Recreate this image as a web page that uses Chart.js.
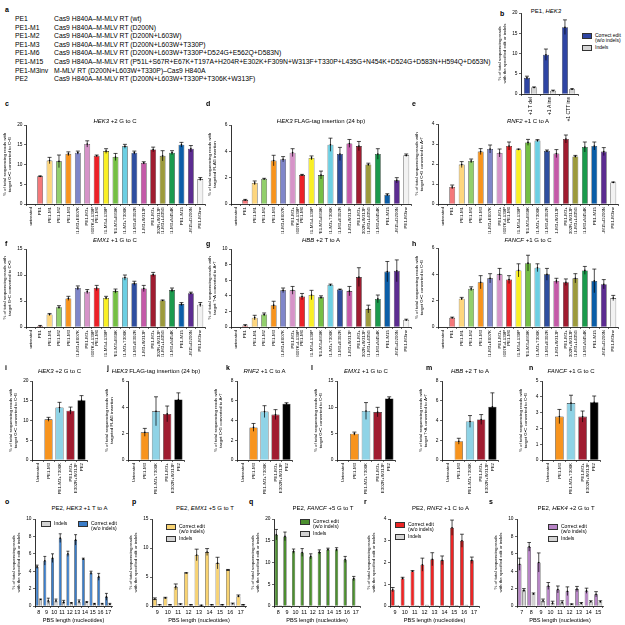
<!DOCTYPE html>
<html>
<head>
<meta charset="utf-8">
<script src="https://cdn.jsdelivr.net/npm/chart.js@4.4.1/dist/chart.umd.min.js"></script>
<style>
  body { margin: 0; width: 625px; height: 625px; background: #fff; position: relative; overflow: hidden;
         font-family: "Liberation Sans", Arial, sans-serif; color: #000; }
  .panel { position: absolute; }
  .txt { position: absolute; white-space: nowrap; line-height: 1; font-size: 6px; }
  .sw { display: inline-block; width: 8px; height: 4px; border: 0.6px solid #333; vertical-align: top; margin-right: 3px; }
</style>
</head>
<body>
<script>
// ---- data ----
const variants = ["untreated", "PE1", "PE1-M1", "PE1-M2", "PE1-M3", "PE1-M3+E607K", ["PE1-M3+", "E607K+L139P"],
  "PE1-M6", "PE1-M3+L139P", "PE1-M3+E69K", "PE1-M3+T306K", "PE1-M3+E302R", "PE1-M3+W313F",
  ["PE1-M3+", "E302R+W313F"], "PE1-M3+L435G", "PE1-M3+N454K", "PE1-M15", "PE1-M15+D200N", "PE1-M3inv"];
const variantColors = ["#ffffff", "#f4787a", "#fdd67e", "#92cf6c", "#f7941e", "#7f86c9", "#d693c8",
  "#ec2127", "#f9ef25", "#74bf44", "#6ccfe3", "#2f4e9f", "#c45aa8", "#a01c30", "#9c9a3c",
  "#1b9a4d", "#0b5ea8", "#5c2c91", "#f2f2f2"];

const hek3G2C = [0, 7.0, 11.0, 10.8, 12.7, 13.0, 15.2, 12.2, 13.4, 11.9, 14.6, 13.0, 10.4, 13.8, 12.2, 13.0, 15.0, 14.0, 6.3];
const hek3G2CErr = [0, 0.1, 0.8, 1.6, 0.5, 0.4, 0.8, 0.2, 0.6, 0.9, 0.5, 0.4, 0.3, 0.6, 1.3, 0.5, 0.6, 0.8, 0.4];
const hek3Flag = [0, 0.3, 1.6, 1.9, 3.3, 3.4, 3.9, 2.2, 3.5, 2.2, 4.5, 3.8, 4.6, 4.4, 3.0, 3.8, 0.7, 1.8, 3.7];
const hek3FlagErr = [0, 0.05, 0.15, 0.05, 0.4, 0.2, 0.3, 0.05, 0.15, 0.3, 0.5, 0.5, 0.3, 0.35, 0.1, 0.4, 0.08, 0.2, 0.1];
const rnf2C2A = [0, 0.85, 1.97, 2.15, 2.62, 2.75, 2.55, 2.9, 2.73, 3.08, 3.17, 2.65, 2.52, 3.25, 2.38, 2.85, 2.9, 2.62, 1.08];
const rnf2C2AErr = [0, 0.1, 0.15, 0.1, 0.15, 0.2, 0.2, 0.2, 0.02, 0.15, 0.05, 0.05, 0.2, 0.2, 0.05, 0.25, 0.2, 0.2, 0.02];
const emx1G2C = [0, 0.2, 2.4, 3.8, 5.5, 7.5, 6.8, 7.5, 5.6, 6.9, 9.5, 8.4, 7.4, 10.1, 5.1, 7.1, 4.4, 6.5, 4.3];
const emx1G2CErr = [0, 0.1, 0.2, 0.3, 0.4, 0.4, 0.4, 0.5, 0.3, 0.4, 0.5, 0.4, 0.6, 0.4, 0.1, 0.4, 0.3, 0.2, 0.4];
const hbbT2A = [0, 0.2, 1.2, 1.6, 2.8, 4.7, 4.7, 3.9, 4.1, 3.8, 5.4, 4.8, 4.6, 6.4, 2.3, 3.6, 7.1, 7.2, 0.9];
const hbbT2AErr = [0, 0.1, 0.3, 0.2, 0.5, 0.3, 0.5, 0.4, 0.6, 0.2, 0.1, 0.05, 0.6, 1.2, 0.5, 0.5, 1.3, 1.4, 0.1];
const fancfG2C = [0, 0.7, 2.15, 2.9, 3.4, 3.7, 4.0, 3.6, 4.3, 4.85, 4.5, 4.0, 3.5, 3.4, 3.7, 4.3, 3.5, 3.25, 2.2];
const fancfG2CErr = [0, 0.05, 0.1, 0.15, 0.5, 0.35, 0.45, 0.3, 0.5, 0.6, 0.3, 0.45, 0.2, 0.25, 0.35, 0.3, 0.9, 0.35, 0.2];

const editors = ["Untreated", "PE1-M3", "PE1-M3+T306K", ["PE1-M3+", "E302R+W313F"], "PE2"];
const editorColors = ["#ffffff", "#f7941e", "#8fd3e6", "#a01c30", "#000000"];
const iHek3 = [0, 10.3, 13.3, 12.5, 15.1];
const iHek3Err = [0, 0.5, 1.3, 0.9, 1.2];
const jFlag = [0, 2.1, 3.7, 3.5, 4.6];
const jFlagErr = [0, 0.3, 1.1, 0.6, 0.5];
const kRnf2 = [0, 3.3, 4.9, 4.6, 5.7];
const kRnf2Err = [0, 0.4, 0.6, 0.5, 0.1];
const lEmx1 = [0, 5.0, 9.3, 9.1, 11.7];
const lEmx1Err = [0, 0.3, 1.6, 0.9, 0.3];
const mHbb = [0, 1.9, 3.9, 4.1, 5.4];
const mHbbErr = [0, 0.3, 0.6, 0.5, 1.4];
const nFancf = [0, 2.75, 3.6, 2.75, 3.65];
const nFancfErr = [0, 0.45, 0.5, 0.35, 0.4];

const bSites = ["+1 T del", "+1 A ins", "+1 CTT ins"];
const bCorrect = [4.0, 9.7, 16.5];
const bCorrectErr = [0.4, 1.4, 1.8];
const bIndels = [1.6, 0.8, 1.2];
const bIndelsErr = [0.15, 0.15, 0.1];

const oPbs = ["8", "9", "10", "11", "12", "13", "14", "15", "16", "17"];
const oCorrect = [4.5, 5.2, 5.5, 7.8, 6.0, 7.6, 5.4, 3.8, 3.35, 1.05];
const oCorrectErr = [0.2, 0.5, 0.5, 0.5, 0.3, 0.6, 0.1, 0.2, 0.4, 0.4];
const oIndels = [0.75, 0.6, 0.6, 0.45, 0.35, 0.5, 0.45, 0.25, 0.25, 0.2];
const oIndelsErr = [0.05, 0.3, 0.2, 0.2, 0.05, 0.2, 0.05, 0.05, 0.05, 0.1];

const pPbs = ["9", "10", "11", "12", "13", "14", "15", "16", "17"];
const pCorrect = [1.2, 1.4, 3.3, 5.7, 8.8, 9.3, 7.4, 6.2, 1.7];
const pCorrectErr = [0.2, 0.1, 0.5, 0.05, 1.0, 0.6, 1.0, 0.1, 0.2];
const pIndels = [0.2, 0.2, 0.3, 0.2, 0.1, 0.2, 0.2, 0.4, 0.2];
const pIndelsErr = [0.05, 0.05, 0.1, 0.05, 0.05, 0.05, 0.05, 0.1, 0.05];

const qPbs = ["8", "9", "10", "11", "12", "13", "14", "15", "16", "17"];
const qCorrect = [16.4, 16.0, 12.6, 12.3, 11.4, 12.4, 13.0, 13.0, 10.7, 6.3];
const qCorrectErr = [1.2, 1.0, 0.5, 0.9, 0.6, 0.5, 0.3, 0.4, 0.7, 0.5];
const qIndels = [0.2, 0.2, 0.1, 0.1, 0.1, 0.1, 0.1, 0.1, 0.1, 0.1];

const rPbs = ["9", "10", "11", "12", "13", "14", "15", "16", "17"];
const rCorrect = [0.75, 1.27, 1.6, 1.9, 2.15, 2.1, 3.6, 3.0, 2.1];
const rCorrectErr = [0.1, 0.05, 0.03, 0.3, 0.3, 0.2, 0.35, 0.3, 0.15];
const rIndels = [0.05, 0.04, 0.03, 0.06, 0.04, 0.03, 0.05, 0.06, 0.02];

const sPbs = ["7", "8", "9", "10", "11", "12", "13", "14", "15"];
const sCorrect = [4.8, 6.8, 5.0, 2.3, 1.9, 1.7, 1.95, 1.75, 1.35];
const sCorrectErr = [0.7, 0.5, 1.1, 0.4, 0.4, 0.5, 0.3, 0.3, 0.3];
const sIndels = [1.8, 1.4, 0.6, 0.35, 0.4, 0.2, 0.3, 0.5, 0.5];
const sIndelsErr = [0.2, 0.1, 0.2, 0.2, 0.2, 0.05, 0.1, 0.1, 0.1];

// ---- helpers ----
const FONT = "Liberation Sans, Arial, sans-serif";
const GRAY = "#d4d4d4";

// error bars drawn from each dataset's "errors" array through the y scale
const errorBars = {
  id: "errorBars",
  afterDatasetsDraw(chart) {
    const ctx = chart.ctx;
    const y = chart.scales.y;
    chart.data.datasets.forEach((ds, i) => {
      if (!ds.errors) return;
      const meta = chart.getDatasetMeta(i);
      meta.data.forEach((bar, j) => {
        const v = ds.data[j], e = ds.errors[j];
        if (!e) return;
        const top = y.getPixelForValue(v + e);
        const bot = y.getPixelForValue(Math.max(0, v - e));
        const cap = Math.min(2, bar.width / 2);
        ctx.save();
        ctx.strokeStyle = "#000";
        ctx.lineWidth = 0.7;
        ctx.beginPath();
        ctx.moveTo(bar.x, bot); ctx.lineTo(bar.x, top);
        ctx.moveTo(bar.x - cap, top); ctx.lineTo(bar.x + cap, top);
        ctx.stroke();
        ctx.fillStyle = "#000";
        ctx.beginPath(); ctx.arc(bar.x, y.getPixelForValue(v), 0.8, 0, Math.PI * 2); ctx.fill();
        ctx.restore();
      });
    });
  }
};

function text(html, x, y, css) {
  const d = document.createElement("div");
  d.className = "txt";
  d.style.left = x + "px";
  d.style.top = y + "px";
  if (css) d.style.cssText += css;
  d.innerHTML = html;
  document.body.appendChild(d);
}
function title(html, cx, y) {
  text(html, cx - 90, y, "width:180px;text-align:center;");
}
function letter(l, x, y) {
  text(l, x, y, "font-size:7px;font-weight:bold;");
}
function legend(items, x, y, gap) {
  items.forEach((it, k) => {
    text('<span class="sw" style="background:' + it[1] + '"></span><span style="display:inline-block;vertical-align:top">' + it[0] + "</span>",
      x, y + k * (gap || 11), "font-size:5px;line-height:1.05;");
  });
}

function barChart(box, cfg) {
  const yW = cfg.yW || 24, xH = cfg.xH || 30, padT = 6, padR = 3;
  const div = document.createElement("div");
  div.className = "panel";
  div.style.left = (box[0] - yW) + "px";
  div.style.top = (box[1] - padT) + "px";
  div.style.width = (box[2] - box[0] + yW + padR) + "px";
  div.style.height = (box[3] - box[1] + padT + xH) + "px";
  const cv = document.createElement("canvas");
  div.appendChild(cv);
  document.body.appendChild(div);

  const axisGrid = { drawOnChartArea: false, drawTicks: true, tickLength: 2, color: "#000", lineWidth: 0.6 };
  const rot = cfg.rot === undefined ? 90 : cfg.rot;
  new Chart(cv, {
    type: "bar",
    data: { labels: cfg.labels, datasets: cfg.datasets },
    options: {
      responsive: true,
      maintainAspectRatio: false,
      animation: false,
      layout: { autoPadding: false, padding: { top: padT, right: padR, left: 0, bottom: 0 } },
      plugins: { legend: { display: false }, title: { display: false }, tooltip: { enabled: false } },
      datasets: { bar: { categoryPercentage: cfg.cat || 1, barPercentage: cfg.bar || 0.62, borderWidth: 0.6, borderColor: "#222" } },
      scales: {
        x: {
          grid: axisGrid,
          border: { color: "#000", width: 0.8 },
          ticks: { font: { family: FONT, size: cfg.xSize || 4.4 }, color: "#000", autoSkip: false, minRotation: rot, maxRotation: rot, padding: 1 },
          title: cfg.xTitle ? { display: true, text: cfg.xTitle, font: { family: FONT, size: 5.6 }, color: "#000", padding: { top: 1, bottom: 0 } } : { display: false },
          afterFit: (s) => { s.height = xH; }
        },
        y: {
          min: 0,
          max: cfg.max,
          grid: axisGrid,
          border: { color: "#000", width: 0.8 },
          ticks: { stepSize: cfg.step, font: { family: FONT, size: 4.8 }, color: "#000", padding: 1.5 },
          title: { display: true, text: cfg.yTitle, font: { family: FONT, size: 4.4 }, color: "#000", padding: { top: 0, bottom: 2 } },
          afterFit: (s) => { s.width = yW; }
        }
      }
    },
    plugins: [errorBars]
  });
}

function variantDs(values, errs) {
  return [{ data: values, errors: errs, backgroundColor: variantColors }];
}
function editorDs(values, errs) {
  return [{ data: values, errors: errs, backgroundColor: editorColors }];
}
function pbsDs(correct, correctErr, color, indels, indelsErr) {
  return [
    { data: correct, errors: correctErr, backgroundColor: color },
    { data: indels, errors: indelsErr, backgroundColor: GRAY }
  ];
}

const yGC = ["% of total sequencing reads with", "target G\u2022C converted to C\u2022G"];
const yCG = ["% of total sequencing reads with", "target C\u2022G converted to A\u2022T"];
const yTA = ["% of total sequencing reads with", "target T\u2022A converted to A\u2022T"];
const yFLAG = ["% of total sequencing reads with", "targeted FLAG insertion"];
const yEdit = ["% of total sequencing reads", "with the specified edit or indels"];

// ---- panel a ----
letter("a", 5, 6);
const aNames = ["PE1", "PE1-M1", "PE1-M2", "PE1-M3", "PE1-M6", "PE1-M15", "PE1-M3inv", "PE2"];
const aDesc = [
  "Cas9 H840A\u2013M-MLV RT (wt)",
  "Cas9 H840A\u2013M-MLV RT (D200N)",
  "Cas9 H840A\u2013M-MLV RT (D200N+L603W)",
  "Cas9 H840A\u2013M-MLV RT (D200N+L603W+T330P)",
  "Cas9 H840A\u2013M-MLV RT (D200N+L603W+T330P+D524G+E562Q+D583N)",
  "Cas9 H840A\u2013M-MLV RT (P51L+S67R+E67K+T197A+H204R+E302K+F309N+W313F+T330P+L435G+N454K+D524G+D583N+H594Q+D653N)",
  "M-MLV RT (D200N+L603W+T330P)\u2013Cas9 H840A",
  "Cas9 H840A\u2013M-MLV RT (D200N+L603W+T330P+T306K+W313F)"
];
aNames.forEach((n, k) => {
  text(n, 15, 16 + k * 8.6, "font-size:6.8px;");
  text(aDesc[k], 54, 16 + k * 8.6, "font-size:6.8px;");
});

// ---- panel b ----
letter("b", 500, 10);
title("PE1, <i>HEK3</i>", 546, 8);
barChart([521, 13, 578, 94], {
  labels: bSites,
  datasets: pbsDs(bCorrect, bCorrectErr, "#2f45a3", bIndels, bIndelsErr),
  max: 20, step: 5, yTitle: yEdit, cat: 0.75, bar: 0.85, xH: 34, xSize: 5
});
legend([["Correct edit<br>(w/o indels)", "#2f45a3"], ["Indels", GRAY]], 582, 33, 12);

// ---- panels c-h ----
letter("c", 5, 100);
letter("d", 206, 100);
letter("e", 412, 100);
title("<i>HEK3</i> +2 G to C", 115, 118);
title("<i>HEK3</i> FLAG-tag insertion (24 bp)", 321, 118);
title("<i>RNF2</i> +1 C to A", 528, 118);
barChart([26, 125, 205, 204], { labels: variants, datasets: variantDs(hek3G2C, hek3G2CErr), max: 20, step: 5, yTitle: yGC });
barChart([231, 125, 411, 204], { labels: variants, datasets: variantDs(hek3Flag, hek3FlagErr), max: 6, step: 2, yTitle: yFLAG });
barChart([438, 124, 618, 204], { labels: variants, datasets: variantDs(rnf2C2A, rnf2C2AErr), max: 4, step: 1, yTitle: yCG });

letter("f", 5, 240);
letter("g", 206, 240);
letter("h", 412, 240);
title("<i>EMX1</i> +1 G to C", 115, 237);
title("<i>HBB</i> +2 T to A", 321, 237);
title("<i>FANCF</i> +1 G to C", 528, 237);
barChart([26, 249, 205, 327], { labels: variants, datasets: variantDs(emx1G2C, emx1G2CErr), max: 15, step: 5, yTitle: yGC });
barChart([231, 249, 411, 327], { labels: variants, datasets: variantDs(hbbT2A, hbbT2AErr), max: 10, step: 2, yTitle: yTA });
barChart([438, 248, 618, 327], { labels: variants, datasets: variantDs(fancfG2C, fancfG2CErr), max: 6, step: 2, yTitle: yGC });

// ---- panels i-n ----
const smallPanels = [
  ["i", 5, "<i>HEK3</i> +2 G to C", [32, 381, 87, 460], iHek3, iHek3Err, 20, 5, yGC],
  ["j", 107, "<i>HEK3</i> FLAG-tag insertion (24 bp)", [128, 381, 184, 460], jFlag, jFlagErr, 6, 2, yFLAG],
  ["k", 226, "<i>RNF2</i> +1 C to A", [237, 381, 292, 460], kRnf2, kRnf2Err, 8, 2, yCG],
  ["l", 311, "<i>EMX1</i> +1 G to C", [337, 381, 395, 460], lEmx1, lEmx1Err, 15, 5, yGC],
  ["m", 426, "<i>HBB</i> +2 T to A", [442, 381, 498, 460], mHbb, mHbbErr, 8, 2, yTA],
  ["n", 529, "<i>FANCF</i> +1 G to C", [542, 381, 600, 460], nFancf, nFancfErr, 5, 1, yGC]
];
smallPanels.forEach((p) => {
  letter(p[0], p[1], 364);
  title(p[2], (p[3][0] + p[3][2]) / 2, 368);
  barChart(p[3], { labels: editors, datasets: editorDs(p[4], p[5]), max: p[6], step: p[7], yTitle: p[8], bar: 0.74, xH: 34 });
});

// ---- panels o-s ----
const pbsPanels = [
  ["o", 5, "PE2, <i>HEK3</i> +1 T to A", [35, 519, 112, 606], oPbs, oCorrect, oCorrectErr, "#3a7dc9", oIndels, oIndelsErr, 10, 2],
  ["p", 132, "PE2, <i>EMX1</i> +5 G to T", [152, 519, 246, 606], pPbs, pCorrect, pCorrectErr, "#f8d372", pIndels, pIndelsErr, 15, 5],
  ["q", 249, "PE2, <i>FANCF</i> +5 G to T", [274, 519, 360, 606], qPbs, qCorrect, qCorrectErr, "#4c8f2f", qIndels, null, 20, 5],
  ["r", 364, "PE2, <i>RNF2</i> +1 C to A", [390, 519, 479, 606], rPbs, rCorrect, rCorrectErr, "#ec2525", rIndels, null, 4, 1],
  ["s", 489, "PE2, <i>HEK4</i> +2 G to T", [517, 519, 603, 606], sPbs, sCorrect, sCorrectErr, "#b784c6", sIndels, sIndelsErr, 10, 2]
];
pbsPanels.forEach((p) => {
  letter(p[0], p[1], 498);
  title(p[2], (p[3][0] + p[3][2]) / 2 + 6, 505);
  barChart(p[3], {
    labels: p[4], datasets: pbsDs(p[5], p[6], p[7], p[8], p[9]),
    max: p[10], step: p[11], yTitle: yEdit, rot: 0, xH: 18, xSize: 5.4,
    xTitle: "PBS length (nucleotides)", cat: 0.9, bar: 0.85
  });
});
legend([["Indels", GRAY]], 41, 521);
legend([["Correct edit<br>(w/o indels)", "#3a7dc9"]], 78, 521);
legend([["Correct edit<br>(w/o indels)", "#f8d372"], ["Indels", GRAY]], 166, 524, 12);
legend([["Correct edit<br>(w/o indels)", "#4c8f2f"], ["Indels", GRAY]], 300, 519, 12);
legend([["Correct edit<br>(w/o indels)", "#ec2525"], ["Indels", GRAY]], 395, 522, 12);
legend([["Correct edit<br>(w/o indels)", "#b784c6"], ["Indels", GRAY]], 548, 524, 12);
</script>
</body>
</html>
